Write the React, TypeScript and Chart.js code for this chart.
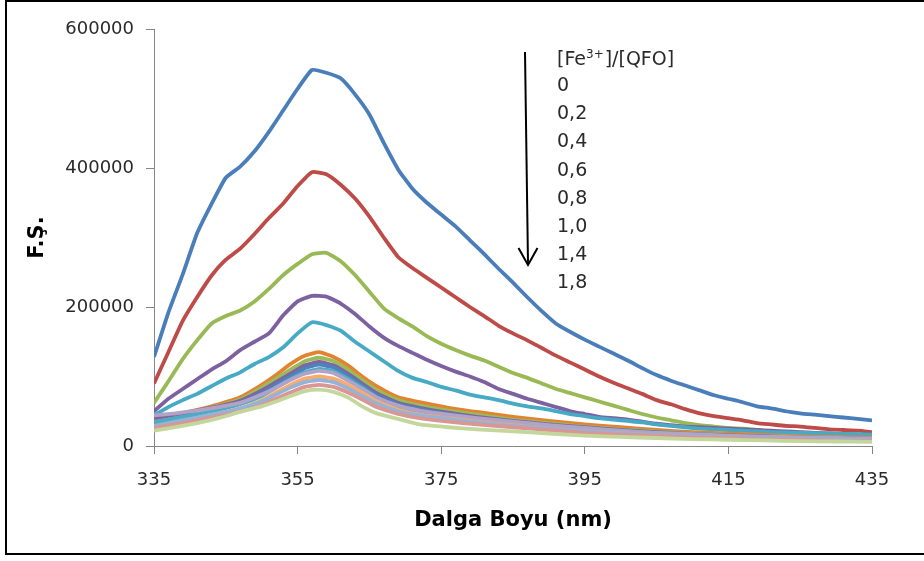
import React, { useEffect, useRef } from 'react';
import { Chart, registerables } from 'chart.js';

Chart.register(...registerables);

// Wavelength grids (nm)
const wavelengths = [
  335, 337, 339, 341, 343, 345, 347, 349, 351, 353,
  355, 357, 359, 361, 363, 365, 367, 369, 371, 373,
  375, 377, 379, 381, 383, 385, 387, 389, 391, 393,
  395, 397, 399, 401, 403, 405, 407, 409, 411, 413,
  415, 417, 419, 421, 423, 425, 427, 429, 431, 433,
  435,
];
const clusterWavelengths = [
  335, 338, 341, 344, 347, 350, 352, 354, 356, 358,
  360, 362, 364, 366, 369, 372, 376, 380, 385, 390,
  395, 400, 405, 410, 415, 420, 425, 430, 435,
];

const legendTitle = ['[Fe', '3+', ']/[QFO]'];
const legendLabels = ['0', '0,2', '0,4', '0,6', '0,8', '1,0', '1,4', '1,8'];
const xTitle = 'Dalga Boyu (nm)';
const yTitle = 'F.Ş.';

// Main series (step 2 nm)
const s0 = [
  128000, 192000, 247000, 306000, 348000, 386000, 402000, 424000, 452000, 483000,
  514000, 541000, 537000, 529000, 506000, 477000, 436000, 398000, 370000, 350000,
  333000, 316000, 296000, 276000, 255000, 235000, 214000, 194000, 176000, 164000,
  153000, 143000, 133000, 123000, 112000, 102000, 94000, 87000, 80000, 73000,
  68000, 63000, 57000, 54000, 50000, 47000, 45000, 43000, 41000, 39000,
  37000,
];
const s02 = [
  90000, 135000, 180000, 214000, 245000, 268000, 284000, 305000, 328000, 349000,
  374000, 394000, 391000, 376000, 356000, 330000, 300000, 272000, 256000, 242000,
  228000, 214000, 200000, 187000, 173000, 162000, 152000, 141000, 130000, 120000,
  110000, 100000, 91000, 83000, 75000, 66000, 60000, 53000, 47000, 43000,
  40000, 37000, 33000, 31000, 29000, 28000, 26000, 24000, 23000, 22000,
  20000,
];
const s04 = [
  62000, 93000, 125000, 152000, 176000, 187000, 195000, 208000, 226000, 246000,
  262000, 276000, 278000, 266000, 246000, 222000, 198000, 184000, 172000, 158000,
  147000, 138000, 130000, 123000, 114000, 105000, 98000, 90000, 82000, 76000,
  70000, 64000, 58000, 52000, 46000, 41000, 37000, 33000, 30000, 28000,
  26000, 25000, 23000, 21000, 20000, 19000, 18000, 17500, 17000, 16000,
  15500,
];
const s06 = [
  50000, 68000, 82000, 96000, 110000, 122000, 138000, 150000, 162000, 188000,
  208000, 216000, 215000, 205000, 190000, 172000, 156000, 144000, 134000, 124000,
  115000, 107000, 100000, 92000, 82000, 75000, 68000, 62000, 56000, 50000,
  46000, 42000, 40000, 38000, 35000, 32000, 30000, 28000, 27000, 26000,
  25000, 24000, 23000, 22000, 21000, 20000, 19000, 18000, 17000, 16500,
  16000,
];
const s08 = [
  44000, 56000, 66000, 75000, 86000, 97000, 106000, 118000, 128000, 142000,
  162000, 178000, 174000, 166000, 150000, 136000, 122000, 108000, 98000, 92000,
  85000, 80000, 74000, 70000, 66000, 61000, 57000, 54000, 50000, 46000,
  43000, 40000, 38000, 36000, 34000, 31000, 29000, 27000, 25000, 24000,
  23000, 22000, 21000, 20000, 19500, 19000, 18500, 18000, 17500, 17000,
  16500,
];

// Clustered low series
const c1 = [37000, 45000, 52000, 60000, 70000, 88000, 102000, 118000, 130000, 135000, 128000, 116000, 100000, 86000, 70000, 63000, 55000, 49000, 42000, 36000, 31000, 27000, 23000, 20000, 18000, 16000, 14000, 13000, 12000];
const c2 = [36000, 43000, 50000, 58000, 67000, 84000, 97000, 110000, 122000, 127000, 122000, 110000, 95000, 80000, 66000, 58000, 51000, 45000, 38000, 33000, 28000, 24000, 21000, 18000, 16000, 14500, 13000, 12000, 11000];
const c3 = [40000, 45000, 51000, 57000, 65000, 80000, 92000, 104000, 116000, 121000, 116000, 104000, 90000, 76000, 62000, 55000, 48000, 42000, 36000, 31000, 27000, 23000, 20000, 17500, 15500, 14000, 12500, 11500, 10500];
const c4 = [30000, 38000, 46000, 54000, 62000, 76000, 88000, 100000, 112000, 117000, 113000, 101000, 87000, 73000, 60000, 53000, 46000, 40000, 34000, 29000, 25000, 22000, 19000, 16500, 14500, 13000, 12000, 11000, 10000];
const c5 = [34000, 40000, 46000, 52000, 60000, 72000, 84000, 96000, 106000, 111000, 108000, 97000, 84000, 70000, 57000, 50000, 44000, 39000, 33000, 28000, 24000, 21000, 18000, 16000, 14000, 12500, 11500, 10500, 9500];
const c6 = [44000, 47000, 51000, 56000, 62000, 74000, 84000, 95000, 104000, 108000, 105000, 94000, 82000, 70000, 58000, 51000, 45000, 40000, 35000, 30000, 26000, 22000, 19000, 17000, 15000, 13500, 12500, 11500, 10500];
const c7 = [28000, 34000, 40000, 47000, 54000, 66000, 77000, 88000, 97000, 100000, 97000, 88000, 76000, 64000, 52000, 45000, 40000, 35000, 30000, 25000, 21000, 18000, 15500, 13500, 11500, 10000, 9000, 8000, 7000];
const c8 = [29000, 35000, 41000, 47000, 54000, 64000, 74000, 84000, 92000, 95000, 92000, 83000, 72000, 61000, 50000, 44000, 39000, 34000, 29000, 25000, 21000, 18000, 16000, 14000, 12500, 11000, 10000, 9000, 8500];
const c9 = [26000, 31000, 37000, 43000, 50000, 59000, 68000, 77000, 85000, 88000, 85000, 77000, 67000, 56000, 46000, 40000, 35000, 31000, 27000, 23000, 19000, 16500, 14500, 12500, 11000, 9500, 8500, 7500, 7000];
const c10 = [22000, 27000, 33000, 40000, 49000, 57000, 64000, 72000, 79000, 81000, 78000, 70000, 57000, 47000, 39000, 31000, 27000, 24000, 21000, 18000, 15000, 13000, 11500, 10000, 9000, 8000, 7000, 6500, 6000];

const seriesNames = ['0', '0,2', '0,4', '0,6', '0,8', '1,0', '1,2', '1,4', '1,6', '1,8', '2,0', '2,2', '2,4', '2,6', '2,8'];
const seriesColors = [
  '#4A7EBB', '#BE4B48', '#98B954', '#7D60A0', '#46AAC5',
  '#E3822F', '#9BBB59', '#8064A2', '#4F81BD', '#4BACC6',
  '#B3A2C7', '#F9AB6B', '#95B3D7', '#D99694', '#C3D69B',
];

const FONT = '"DejaVu Sans", "Liberation Sans", sans-serif';

export default function App() {
  const ref = useRef<HTMLCanvasElement>(null);

  useEffect(() => {
    if (!ref.current) return;
    const mainY = [s0, s02, s04, s06, s08];
    const clusterY = [c1, c2, c3, c4, c5, c6, c7, c8, c9, c10];
    const toPts = (xs: number[], ys: number[]) => xs.map((x, i) => ({ x, y: ys[i] }));
    const all = [
      ...mainY.map((ys) => toPts(wavelengths, ys)),
      ...clusterY.map((ys) => toPts(clusterWavelengths, ys)),
    ];
    const datasets = all.map((data, i) => ({
      label: seriesNames[i],
      data,
      borderColor: seriesColors[i],
      backgroundColor: seriesColors[i],
      borderWidth: 3.8,
      pointRadius: 0,
      fill: false,
      tension: 0.15,
      order: -i,
    }));

    const annot = {
      id: 'annot',
      afterDraw(chart: any) {
        const ctx = chart.ctx as CanvasRenderingContext2D;
        ctx.save();
        ctx.fillStyle = '#2a2a2a';
        ctx.textBaseline = 'middle';
        ctx.textAlign = 'left';
        let x = 550;
        const y = 58;
        ctx.font = `19px ${FONT}`;
        ctx.fillText(legendTitle[0], x, y);
        x += ctx.measureText(legendTitle[0]).width;
        ctx.font = `12px ${FONT}`;
        ctx.fillText(legendTitle[1], x, y - 5);
        x += ctx.measureText(legendTitle[1]).width + 1;
        ctx.font = `19px ${FONT}`;
        ctx.fillText(legendTitle[2], x, y);
        legendLabels.forEach((t, i) => ctx.fillText(t, 550, 84 + i * 28.2));
        // arrow
        ctx.strokeStyle = '#000';
        ctx.lineWidth = 2;
        ctx.beginPath();
        ctx.moveTo(518, 50);
        ctx.lineTo(521, 262);
        ctx.stroke();
        ctx.beginPath();
        ctx.moveTo(511.5, 246);
        ctx.lineTo(521, 263);
        ctx.lineTo(530.5, 246);
        ctx.stroke();
        ctx.restore();
      },
    };

    const axisGrid = {
      drawOnChartArea: false,
      drawTicks: true,
      tickLength: 8,
      color: '#868686',
      tickColor: '#868686',
      lineWidth: 1,
    };

    const chart = new Chart(ref.current, {
      type: 'line',
      data: { datasets },
      plugins: [annot],
      options: {
        animation: false,
        responsive: false,
        devicePixelRatio: 1,
        layout: { padding: { top: 27, right: 52, bottom: 0, left: 0 } },
        plugins: {
          legend: { display: false },
          tooltip: { enabled: false },
        },
        scales: {
          x: {
            type: 'linear',
            min: 335,
            max: 435,
            ticks: {
              stepSize: 20,
              color: '#2a2a2a',
              font: { family: FONT, size: 18 },
              padding: 16,
              maxRotation: 0,
            },
            grid: axisGrid,
            border: { display: true, color: '#868686', width: 1 },
            title: {
              display: true,
              text: xTitle,
              color: '#000',
              font: { family: FONT, size: 21, weight: 'bold' },
              padding: { top: 0, bottom: 20 },
            },
            afterFit: (s: any) => {
              s.height = 107;
            },
          },
          y: {
            type: 'linear',
            min: 0,
            max: 600000,
            ticks: {
              stepSize: 200000,
              color: '#2a2a2a',
              font: { family: FONT, size: 18 },
              padding: 12,
              callback: (v: any) => String(v),
            },
            grid: axisGrid,
            border: { display: true, color: '#868686', width: 1 },
            title: {
              display: true,
              text: yTitle,
              color: '#000',
              font: { family: FONT, size: 21, weight: 'bold' },
              padding: { top: 18, bottom: 0 },
            },
            afterFit: (s: any) => {
              s.width = 147;
            },
          },
        },
      },
    } as any);
    return () => chart.destroy();
  }, []);

  return (
    <div
      style={{
        position: 'fixed',
        left: 5,
        top: 0,
        width: 930,
        height: 555,
        border: '2px solid #000',
        boxSizing: 'border-box',
        background: '#fff',
      }}
    >
      <canvas ref={ref} width={917} height={551} style={{ display: 'block', width: 917, height: 551 }} />
    </div>
  );
}
